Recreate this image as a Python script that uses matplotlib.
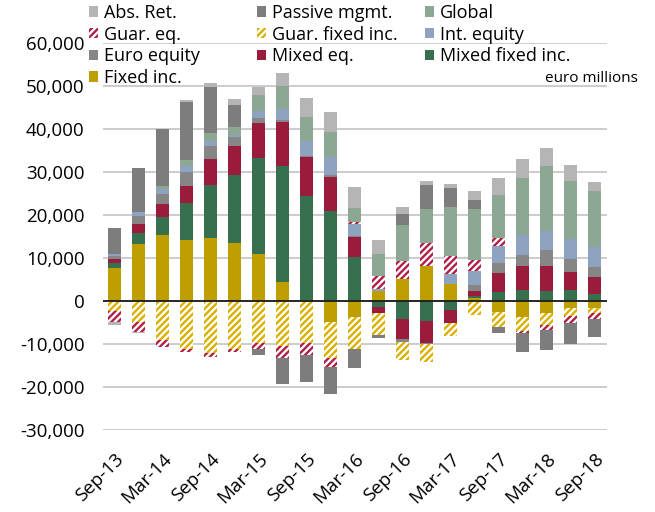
import matplotlib
matplotlib.use("Agg")
import matplotlib.pyplot as plt
import numpy as np
from matplotlib.patches import Patch
from matplotlib.ticker import FuncFormatter

plt.rcParams['font.family'] = ['Open Sans', 'DejaVu Sans']
plt.rcParams['hatch.linewidth'] = 1.7

quarters = ["Sep-13", "Dec-13", "Mar-14", "Jun-14", "Sep-14", "Dec-14", "Mar-15",
            "Jun-15", "Sep-15", "Dec-15", "Mar-16", "Jun-16", "Sep-16", "Dec-16",
            "Mar-17", "Jun-17", "Sep-17", "Dec-17", "Mar-18", "Jun-18", "Sep-18"]
tick_labels = ["Sep-13", "Mar-14", "Sep-14", "Mar-15", "Sep-15", "Mar-16",
               "Sep-16", "Mar-17", "Sep-17", "Mar-18", "Sep-18"]

fixed_inc = [7750, 13400, 15420, 14330, 14650, 13630, 11000, 4490, 0, -4880, -3570,
             2330, 5190, 8210, 4020, 790, -2420, -3570, -2790, -1630, -1630]
mixed_fixed = [1160, 2410, 4190, 8610, 12470, 15680, 22400, 26980, 24560, 20930, 10230,
               -1400, -4190, -4650, -2090, 370, 2230, 2700, 2330, 2560, 1630]
mixed_eq = [1000, 2090, 2950, 3960, 6050, 6880, 8140, 10300, 8920, 8060, 4650,
            -1400, -4650, -4960, -2950, 1160, 4420, 5580, 5970, 4190, 3950]
euro_eq = [700, 1900, 2480, 3250, 3020, 1950, 1000, 400, 300, 460, 300,
           0, -540, -300, 0, 1400, 2330, 2560, 3720, 3170, 2410]
int_eq = [320, 900, 1160, 1400, 1090, 450, 1600, 2480, 3420, 4190, 2790,
          470, 0, 0, 2260, 3260, 3950, 4510, 4270, 4580, 4580]
guar_fixed = [-2180, -4740, -9000, -11170, -12100, -11020, -9630, -10400, -9770, -8370, -7440,
              -5050, -4270, -4300, -3100, -3260, -3490, -3340, -2720, -1780, -1000]
guar_eq = [-2700, -2330, -1560, -620, -800, -700, -1540, -2860, -2720, -2090, 540,
           3180, 4260, 5430, 4260, 2640, 1710, -400, -1160, -1550, -1400]
global_fund = [0, 0, 700, 1320, 1940, 2020, 3900, 5430, 5740, 5810, 3260,
               5040, 8230, 7760, 11330, 11770, 10080, 13400, 15120, 13560, 13100]
passive = [6120, 10300, 13100, 13420, 10560, 4950, -1320, -6050, -6350, -6210, -4580,
           -780, 2640, 5740, 4490, 2170, -1400, -4560, -4650, -4880, -4280]
abs_ret = [-700, -300, 0, 530, 1070, 1400, 1800, 2950, 4270, 4580, 4880,
           3260, 1550, 780, 930, 2090, 3880, 4420, 4340, 3720, 2030]

# stacking order (bottom to top)
series = [
    ("Fixed inc.", fixed_inc, "#BE9E00", None),
    ("Mixed fixed inc.", mixed_fixed, "#36704F", None),
    ("Mixed eq.", mixed_eq, "#9A1C3C", None),
    ("Euro equity", euro_eq, "#868686", None),
    ("Int. equity", int_eq, "#8EA3C0", None),
    ("Guar. fixed inc.", guar_fixed, "#D8B000", "/////"),
    ("Guar. eq.", guar_eq, "#B01E48", "/////"),
    ("Global", global_fund, "#8CA893", None),
    ("Passive mgmt.", passive, "#7D7D7D", None),
    ("Abs. Ret.", abs_ret, "#B5B5B5", None),
]

fig = plt.figure(figsize=(6.55, 5.12), dpi=100)
ax = fig.add_axes([102.5 / 655, 81.7 / 512, 504 / 655, 387 / 512])

x = np.arange(len(quarters))
pos_base = np.zeros(len(quarters))
neg_base = np.zeros(len(quarters))
handles = {}
for name, vals, color, hatch in series:
    v = np.array(vals, dtype=float)
    pos = np.where(v > 0, v, 0)
    neg = np.where(v < 0, v, 0)
    if hatch:
        kw = dict(facecolor="white", edgecolor=color, hatch=hatch, linewidth=0)
    else:
        kw = dict(color=color, linewidth=0)
    ax.bar(x, pos, 0.55, bottom=pos_base, zorder=3, **kw)
    ax.bar(x, neg, 0.55, bottom=neg_base, zorder=3, **kw)
    pos_base += pos
    neg_base += neg
    handles[name] = Patch(label=name, **kw)

ax.set_xlim(-0.5, len(quarters) - 0.5)
ax.set_ylim(-30000, 60000)
ax.set_yticks(np.arange(-30000, 60001, 10000))
ax.yaxis.set_major_formatter(FuncFormatter(lambda v, p: f"{v:,.0f}"))
ax.grid(axis="y", color="#C8C8C8", linewidth=1.3, zorder=0)
ax.axhline(0, color="#1a1a1a", linewidth=1.3, zorder=4)
for s in ax.spines.values():
    s.set_visible(False)
ax.set_xticks(x[::2])
ax.set_xticklabels(tick_labels, rotation=45, ha="right", va="top",
                   rotation_mode="anchor", fontsize=13.5)
ax.tick_params(axis="x", length=0, pad=14)
ax.tick_params(axis="y", length=0, pad=13, labelsize=13.5)

cols = [["Abs. Ret.", "Guar. eq.", "Euro equity", "Fixed inc."],
        ["Passive mgmt.", "Guar. fixed inc.", "Mixed eq."],
        ["Global", "Int. equity", "Mixed fixed inc."]]
col_x = [89 / 655, 257 / 655, 425 / 655]
for cx, names in zip(col_x, cols):
    fig.legend(handles=[handles[n] for n in names], loc="upper left",
               bbox_to_anchor=(cx, 1 - 4 / 512), frameon=False, fontsize=13,
               borderpad=0, borderaxespad=0, handlelength=0.52, handleheight=0.52,
               handletextpad=0.3, labelspacing=0.2)

fig.text(638 / 655, 1 - 79 / 512, "euro millions", ha="right", va="center", fontsize=11)

fig.savefig("out.png", dpi=100)
